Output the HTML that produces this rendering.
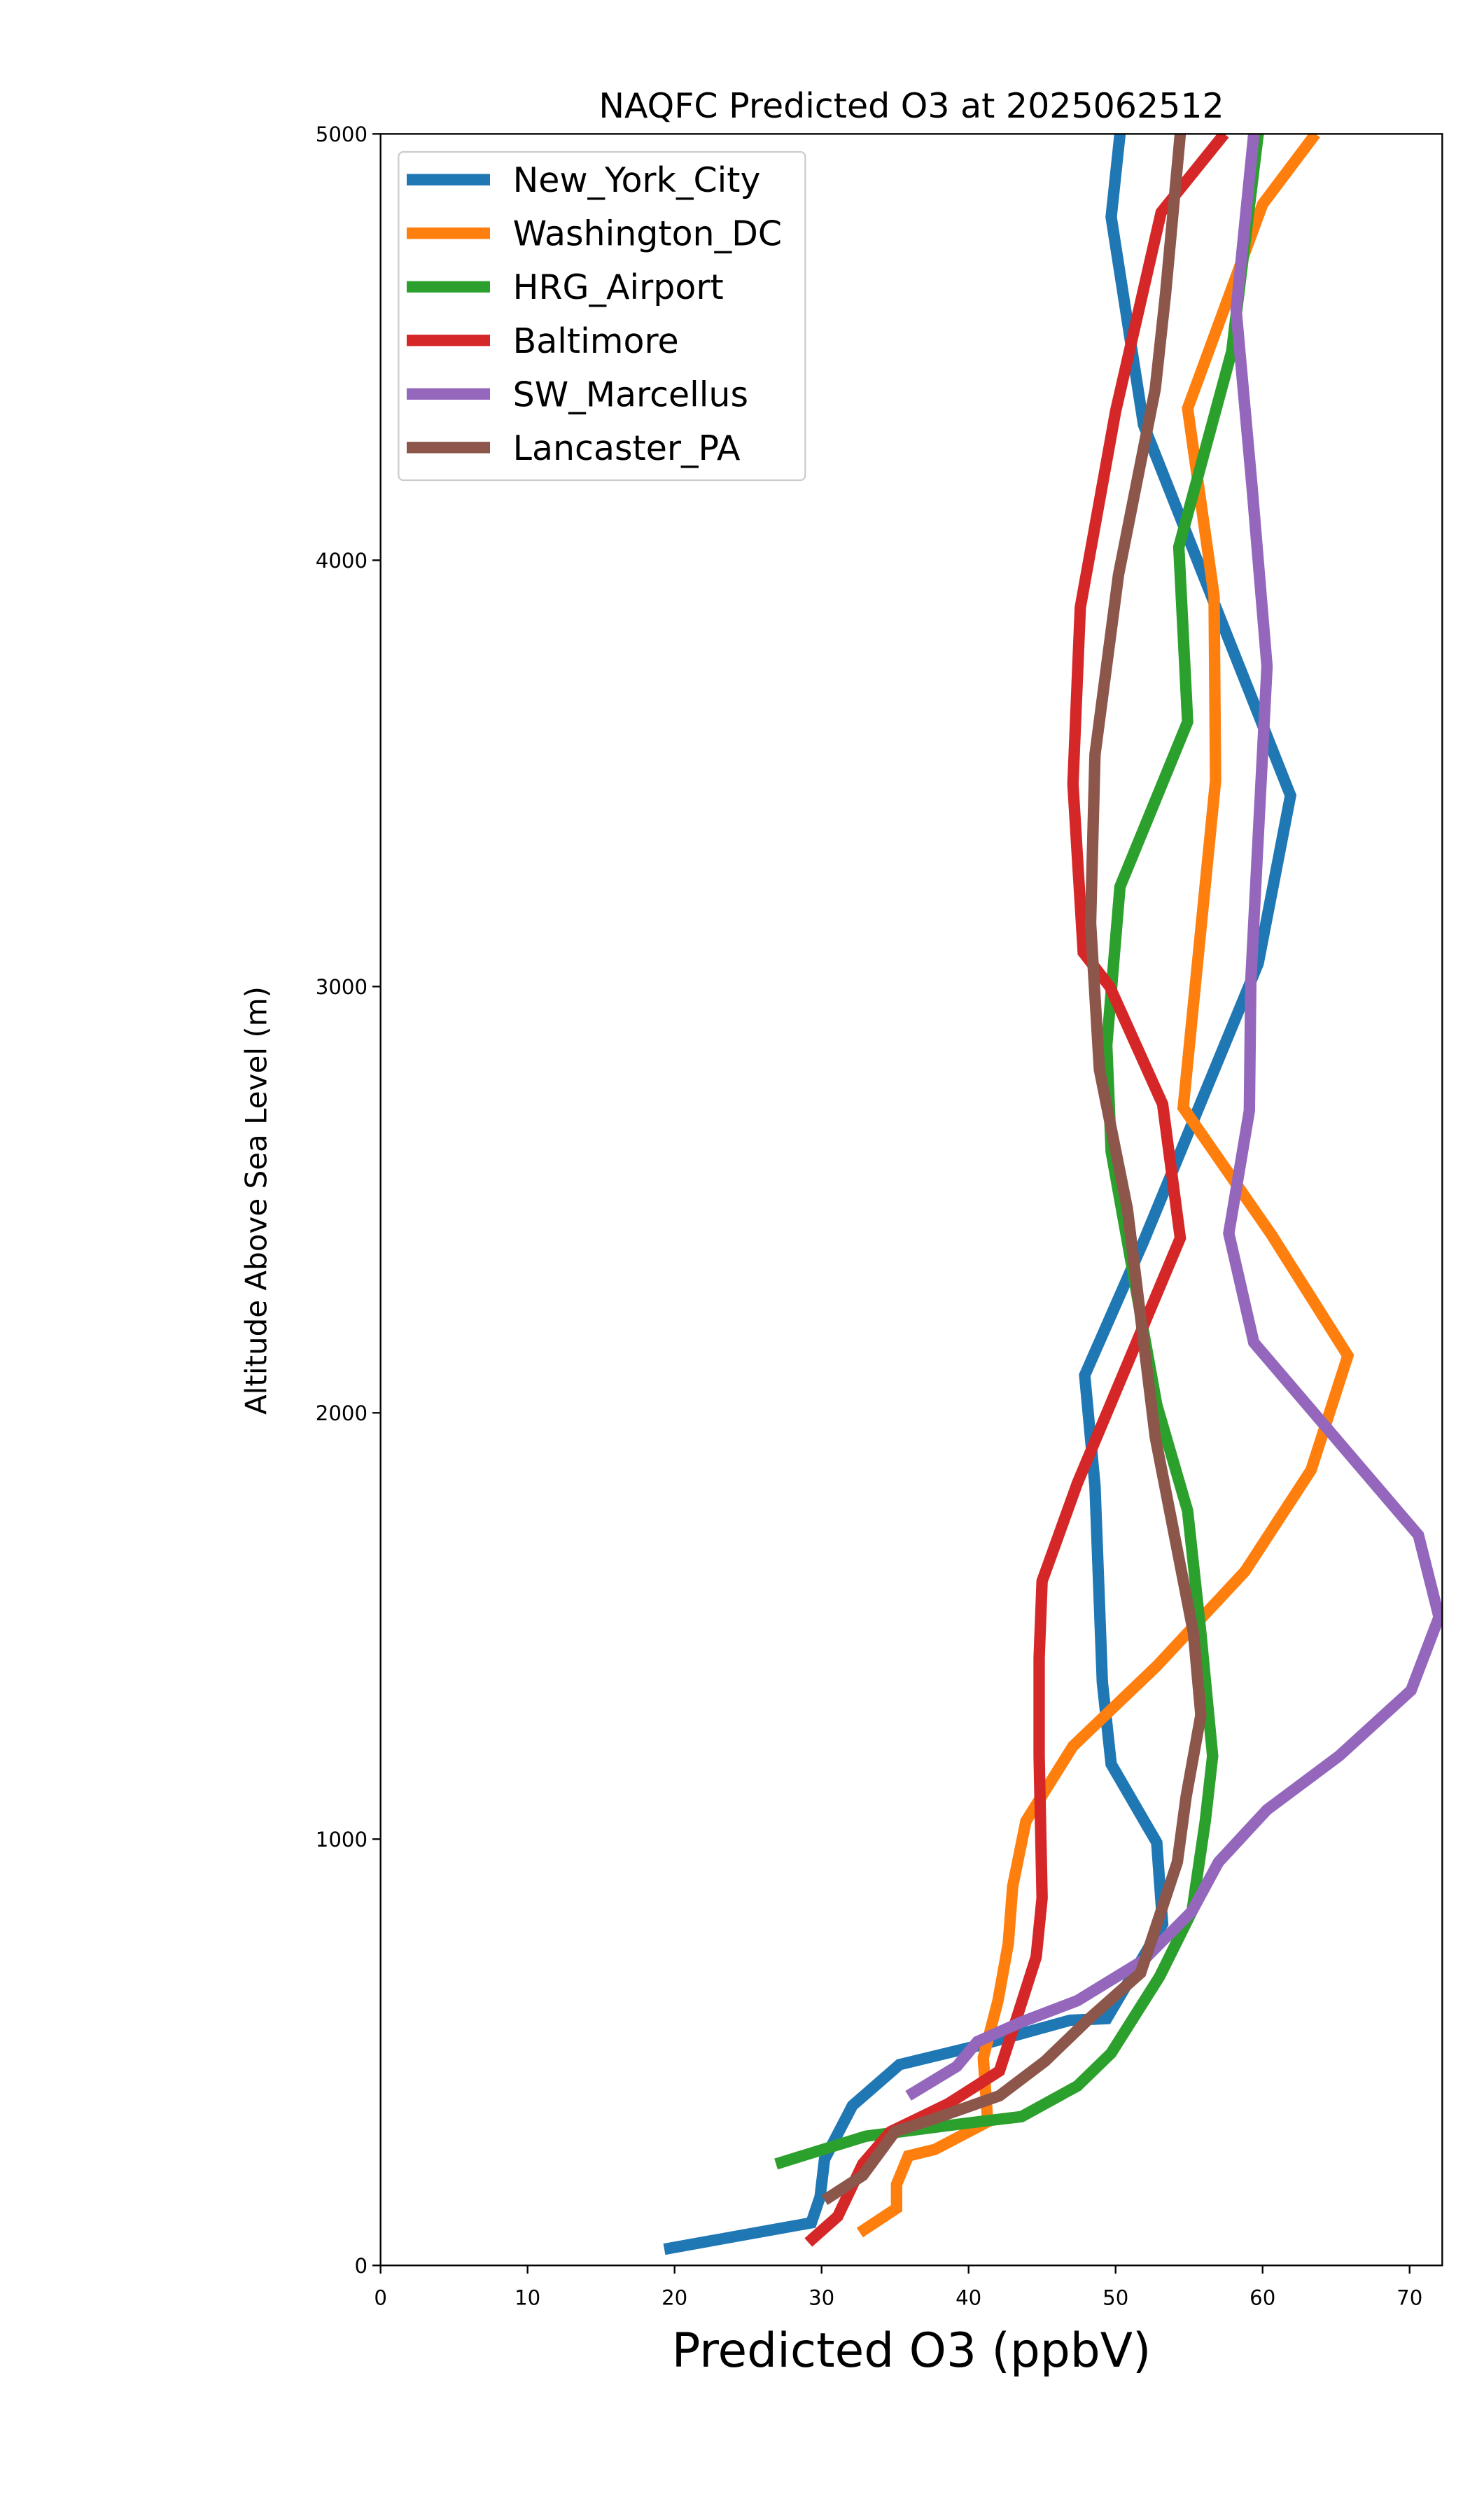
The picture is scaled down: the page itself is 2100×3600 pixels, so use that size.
<!DOCTYPE html>
<html><head><meta charset="utf-8"><style>
html,body{margin:0;padding:0;background:#fff}
svg{display:block;font-family:"DejaVu Sans","Liberation Sans",sans-serif}
</style></head><body>
<svg id="chart" width="2100" height="3600" viewBox="0 0 900 1542.857" xmlns="http://www.w3.org/2000/svg">
<defs><clipPath id="plotclip"><rect x="233" y="82" width="650" height="1305"/></clipPath></defs>
<rect width="900" height="1542.857" fill="#fff"/>
<text x="558" y="72" text-anchor="middle" font-size="21">NAQFC Predicted O3 at 2025062512</text>
<g id="lines" clip-path="url(#plotclip)"></g>
<rect x="233" y="82" width="650" height="1305" fill="none" stroke="#000" stroke-width="1"/>
<g id="xticks"></g>
<g id="yticks"></g>
<text x="558" y="1449" text-anchor="middle" font-size="29">Predicted O3 (ppbV)</text>
<text transform="translate(163,735) rotate(-90)" text-anchor="middle" font-size="18">Altitude Above Sea Level (m)</text>
<g id="legend"></g>
</svg>
<script>
const seriesNames = ["New_York_City","Washington_DC","HRG_Airport","Baltimore","SW_Marcellus","Lancaster_PA"];
const seriesColors = ["#1f77b4","#ff7f0e","#2ca02c","#d62728","#9467bd","#8c564b"];
const xTicks = [0,10,20,30,40,50,60,70];
const yTicks = [0,1000,2000,3000,4000,5000];
const nycO3 = [19.3,29.3,29.9,30.2,32.1,35.3,40.8,46.9,49.4,53.2,52.8,49.7,49.1,48.6,47.9,51.9,59.7,61.9,51.9,49.7,50.3];
const nycAlt = [38,100,161,249,375,471,517,575,579,801,992,1176,1368,1828,2088,2402,3054,3448,4318,4805,5000];
const dcO3 = [32.6,35.1,35.1,35.9,37.7,41.3,41.0,42.0,42.7,43.0,43.9,47.1,52.8,58.8,63.3,65.8,60.6,54.6,56.8,56.7,54.9,60.0,63.6];
const dcAlt = [77,134,190,257,272,337,487,621,755,889,1042,1218,1406,1628,1866,2134,2418,2716,3483,3916,4356,4835,5000];
const hrgO3 = [26.9,33.0,39.7,43.6,47.4,49.7,53.0,55.2,56.1,56.6,55.8,54.9,52.8,49.7,49.4,50.3,54.9,54.3,57.9,59.7];
const hrgAlt = [238,303,333,349,421,498,678,831,1042,1195,1483,1770,2019,2613,2862,3234,3621,4031,4490,5000];
const balO3 = [29.1,31.1,32.8,34.7,38.6,42.1,43.4,44.6,45.0,44.8,44.8,45.0,47.4,54.4,53.2,49.6,47.8,47.1,47.6,50.0,53.1,57.4];
const balAlt = [54,115,238,314,379,456,594,724,862,1195,1425,1605,1835,2410,2724,3000,3080,3475,3889,4349,4816,5000];
const swmO3 = [35.9,39.2,40.6,43.6,47.4,51.9,55.2,57.0,60.3,65.2,70.1,72.0,70.6,59.4,57.7,59.1,59.2,60.3,59.3,58.2,59.4];
const swmAlt = [398,467,525,571,621,716,831,946,1069,1195,1349,1521,1713,2165,2421,2709,3015,3751,4165,4586,5000];
const lanO3 = [30.2,32.8,35.0,37.4,42.1,45.2,48.3,51.7,54.2,54.8,55.8,55.3,52.7,50.8,48.9,48.3,48.6,50.2,52.7,53.4,54.4];
const lanAlt = [153,211,314,341,398,479,582,686,946,1100,1291,1483,1943,2479,2805,3149,3544,3966,4402,4625,5000];

const NS="http://www.w3.org/2000/svg";
const X0=233,X1=883,Y0=1387,Y1=82,XMAX=72.22,YMAX=5000;
function sx(v){return X0+(v/XMAX)*(X1-X0);}
function sy(v){return Y0-(v/YMAX)*(Y0-Y1);}
const allX=[nycO3,dcO3,hrgO3,balO3,swmO3,lanO3];
const allY=[nycAlt,dcAlt,hrgAlt,balAlt,swmAlt,lanAlt];
const lines=document.getElementById('lines');
allX.forEach((xs,i)=>{
  const p=document.createElementNS(NS,'polyline');
  p.setAttribute('points',xs.map((v,j)=>sx(v).toFixed(2)+','+sy(allY[i][j]).toFixed(2)).join(' '));
  p.setAttribute('fill','none');p.setAttribute('stroke',seriesColors[i]);
  p.setAttribute('stroke-width','7');p.setAttribute('stroke-linejoin','miter');
  
  
  lines.appendChild(p);
});
const xg=document.getElementById('xticks');
xTicks.forEach(t=>{
  const l=document.createElementNS(NS,'line');
  l.setAttribute('x1',sx(t));l.setAttribute('x2',sx(t));l.setAttribute('y1',Y0);l.setAttribute('y2',Y0+5);l.setAttribute('stroke','#000');
  
  
  xg.appendChild(l);
  const tx=document.createElementNS(NS,'text');
  tx.setAttribute('x',sx(t));tx.setAttribute('y',Y0+24);tx.setAttribute('text-anchor','middle');tx.setAttribute('font-size','12.5');
  tx.textContent=t;
  
  
  xg.appendChild(tx);
});
const yg=document.getElementById('yticks');
yTicks.forEach(t=>{
  const l=document.createElementNS(NS,'line');
  l.setAttribute('x1',X0-5);l.setAttribute('x2',X0);l.setAttribute('y1',sy(t));l.setAttribute('y2',sy(t));l.setAttribute('stroke','#000');
  
  
  yg.appendChild(l);
  const tx=document.createElementNS(NS,'text');
  tx.setAttribute('x',X0-8);tx.setAttribute('y',sy(t)+4.5);tx.setAttribute('text-anchor','end');tx.setAttribute('font-size','12.5');
  tx.textContent=t;
  
  
  yg.appendChild(tx);
});
const lg=document.getElementById('legend');
const box=document.createElementNS(NS,'rect');
box.setAttribute('x',244);box.setAttribute('y',93);box.setAttribute('width',249);box.setAttribute('height',201);
box.setAttribute('rx',3);box.setAttribute('fill','#fff');box.setAttribute('fill-opacity','0.8');box.setAttribute('stroke','#ccc');


lg.appendChild(box);
seriesNames.forEach((n,i)=>{
  const y=110+i*32.8;
  const l=document.createElementNS(NS,'line');
  l.setAttribute('x1',249);l.setAttribute('x2',300);l.setAttribute('y1',y);l.setAttribute('y2',y);
  l.setAttribute('stroke',seriesColors[i]);l.setAttribute('stroke-width','7');
  
  
  lg.appendChild(l);
  const t=document.createElementNS(NS,'text');
  t.setAttribute('x',314);t.setAttribute('y',y+7.5);t.setAttribute('font-size','21');
  t.textContent=n;
  
  
  lg.appendChild(t);
});
</script>
</body></html>
